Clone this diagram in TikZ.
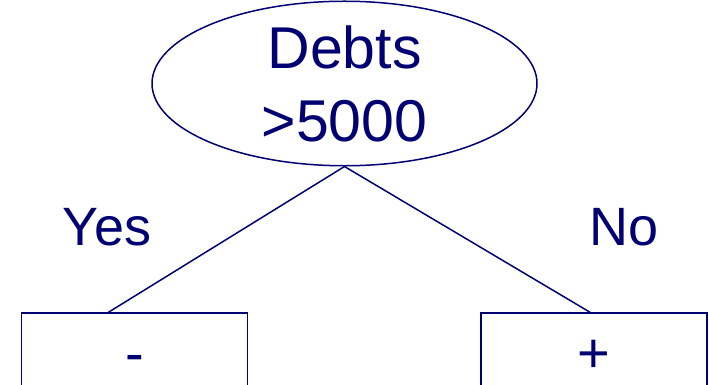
\documentclass[tikz,border=0pt]{standalone}
\usepackage{fontspec}
\setmainfont{Liberation Sans}
\usepackage{xcolor}
\usepackage{tikz}
\usetikzlibrary{positioning,shapes.geometric,calc}

\definecolor{navy}{RGB}{0,0,115}

\begin{document}
\begin{tikzpicture}[
  x=1pt, y=-1pt,
  test/.style={ellipse, draw=navy, line width=1.5pt, text=navy,
               minimum width=385pt, minimum height=153pt, inner sep=0pt,
               align=center, font=\fontsize{59}{73}\selectfont},
  leaf/.style={rectangle, draw=navy, line width=1.5pt, text=navy,
               minimum width=226pt, minimum height=86pt, inner sep=0pt,
               text height=40pt, text depth=8pt, font=\fontsize{56}{60}\selectfont},
  answer/.style={text=navy, inner sep=0pt, font=\fontsize{54}{60}\selectfont},
  branch/.style={draw=navy, line width=1.5pt}
]
\useasboundingbox (0,0) rectangle (709,385);

% Nodes
\node[test] (debts) at (344.5,83.5) {Debts\\>5000};
\node[leaf] (minus) at (134.5,356) {-};
\node[leaf] (plus)  at (594,356)   {+};

% Branch labels
\node[answer] (yes) at (107,227) {Yes};
\node[answer] (no)  at (624,227) {No};

% Branches
\coordinate (yesend) at ([xshift=-26pt]minus.north);
\coordinate (noend)  at ([xshift=-4pt]plus.north);
\draw[branch] (debts.south) -- (yesend);
\draw[branch] (debts.south) -- (noend);
\end{tikzpicture}
\end{document}
